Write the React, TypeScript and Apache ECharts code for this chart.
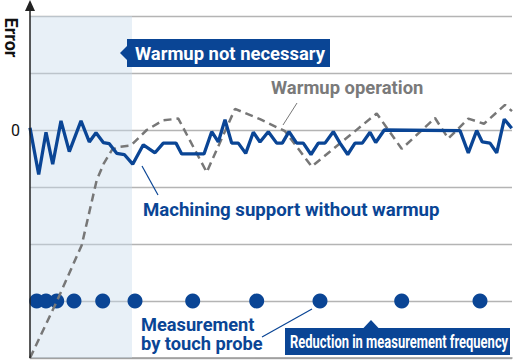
import React, { useEffect, useRef } from "react";
import * as echarts from "echarts";

// Time (arbitrary units along the x axis) and error values
const solidTime = [0, 8.7, 16, 22.7, 31, 39.3, 51, 59.3, 66, 73.3, 79.3, 86.7, 94.3, 102.7, 113.3, 125, 133.3, 146, 151.7, 174, 181.7, 188.3, 195, 201.7, 208.3, 215.7, 223.3, 230, 238.3, 246.7, 252.3, 259, 266.7, 273.3, 281, 288.3, 295, 303.3, 310, 317.7, 325, 332.3, 340, 345.7, 354.3, 430, 438.3, 446.7, 452.3, 460, 466.7, 474.3, 481.7];
const solidError = [0.04, -0.78, -0.04, -0.6, 0.16, -0.38, 0.16, -0.21, -0.05, -0.22, -0.24, -0.41, -0.43, -0.6, -0.26, -0.4, -0.23, -0.23, -0.42, -0.42, -0.03, -0.21, 0.18, -0.23, -0.23, -0.41, -0.04, -0.21, -0.03, -0.23, -0.23, -0.03, -0.23, -0.23, -0.43, -0.23, -0.23, -0.03, -0.23, -0.43, -0.23, -0.23, -0.04, -0.22, 0, -0.01, -0.4, -0.01, -0.21, -0.23, -0.4, 0.19, 0.03];

const dashedTime = [0, 26.7, 51.7, 66.7, 74, 82, 88, 101, 116.7, 133.3, 148.3, 176.7, 205, 230, 255, 281.7, 346.7, 371.7, 405, 418.3, 438.3, 454, 475, 482];
const dashedError = [-4, -3.01, -2.02, -0.88, -0.58, -0.35, -0.3, -0.27, 0, 0.17, 0.2, -0.74, 0.37, 0.19, -0.02, -0.64, 0.29, -0.33, 0.21, -0.15, 0.2, 0.11, 0.44, 0.33];

const probeTime = [6.7, 16, 26.7, 44, 72.7, 105, 162.7, 226.7, 290, 371.7, 450];
const probeLevel = -3;

const warmupZoneEnd = 102;
const yTicks = [-4, -3, -2, -1, 0, 1, 2];

const BLUE = "#0a4595";
const GRAY = "#777777";
const FONT = "Roboto, 'Liberation Sans', sans-serif";

export default function App() {
  const ref = useRef<HTMLDivElement>(null);
  useEffect(() => {
    if (!ref.current) return;
    const chart = echarts.init(ref.current, null, { renderer: "svg" });
    const solidData = solidTime.map((t, i) => [t, solidError[i]]);
    const dashedData = dashedTime.map((t, i) => [t, dashedError[i]]);
    const probeData = probeTime.map((t) => [t, probeLevel]);

    const txt = (
      text: string,
      x: number,
      y: number,
      fill: string,
      size: number,
      sx: number,
      extra: any = {}
    ) => ({
      type: "text",
      x,
      y,
      scaleX: sx,
      z: 100,
      style: {
        text,
        fill,
        fontFamily: FONT,
        fontWeight: "bold",
        fontSize: size,
        align: "left",
        verticalAlign: "middle",
      },
      ...extra,
    });

    chart.setOption({
      animation: false,
      grid: { left: 30, right: 3, top: 16, bottom: 3 },
      xAxis: {
        type: "value",
        min: 0,
        max: 482,
        axisLine: { show: true, onZero: false, lineStyle: { color: "#9a9a9a", width: 1.5 } },
        axisTick: { show: false },
        axisLabel: { show: false },
        splitLine: { show: false },
      },
      yAxis: {
        type: "value",
        min: yTicks[0],
        max: yTicks[yTicks.length - 1],
        interval: 1,
        axisLine: { show: false },
        axisTick: { show: false },
        axisLabel: {
          formatter: (v: number) => (v === 0 ? "0" : ""),
          color: "#111",
          fontSize: 16,
          margin: 10,
          fontFamily: FONT,
        },
        splitLine: { lineStyle: { color: "#b4b4b4", width: 1.3 } },
      },
      series: [
        {
          type: "scatter",
          data: probeData,
          symbolSize: 15,
          itemStyle: { color: BLUE, opacity: 1 },
          markArea: {
            silent: true,
            itemStyle: { color: "rgba(200,220,235,0.42)" },
            data: [[{ xAxis: 0 }, { xAxis: warmupZoneEnd }]],
          },
          z: 2,
        },
        {
          type: "line",
          data: dashedData,
          symbol: "none",
          lineStyle: { color: GRAY, width: 2.5, type: [8, 5] },
          z: 3,
        },
        {
          type: "line",
          data: solidData,
          symbol: "none",
          lineStyle: { color: BLUE, width: 3.3 },
          z: 4,
        },
      ],
      graphic: [
        { type: "line", z: 100, shape: { x1: 30, y1: 358, x2: 30, y2: 9 }, style: { stroke: "#222", lineWidth: 1.5 } },
        { type: "polygon", z: 100, shape: { points: [[25, 11], [30, 0], [35, 11]] }, style: { fill: "#222" } },
        {
          type: "text",
          x: 11.5,
          y: 37.5,
          rotation: -Math.PI / 2,
          z: 100,
          style: { text: "Error", fill: "#111", fontFamily: FONT, fontWeight: "bold", fontSize: 18, align: "center", verticalAlign: "middle" },
        },
        // Warmup not necessary box
        { type: "rect", z: 99, shape: { x: 127, y: 39, width: 203, height: 28 }, style: { fill: BLUE } },
        { type: "polygon", z: 99, shape: { points: [[127, 46], [120, 53], [127, 60]] }, style: { fill: BLUE } },
        txt("Warmup not necessary", 135, 53.5, "#fff", 19, 0.97),
        // Warmup operation
        txt("Warmup operation", 271, 88, "#7a7a7a", 19, 0.97),
        { type: "line", z: 100, shape: { x1: 297, y1: 103, x2: 283, y2: 125 }, style: { stroke: GRAY, lineWidth: 1 } },
        // Machining support
        txt("Machining support without warmup", 143, 209.5, BLUE, 19, 0.98),
        { type: "line", z: 100, shape: { x1: 142, y1: 166, x2: 158, y2: 195 }, style: { stroke: BLUE, lineWidth: 1.2 } },
        // Measurement by touch probe
        txt("Measurement", 141, 324.5, BLUE, 19, 0.96),
        txt("by touch probe", 141, 343.5, BLUE, 19, 0.96),
        { type: "line", z: 100, shape: { x1: 262, y1: 337, x2: 312, y2: 309 }, style: { stroke: BLUE, lineWidth: 1.2 } },
        // Reduction box
        { type: "rect", z: 99, shape: { x: 285, y: 328, width: 225, height: 27 }, style: { fill: BLUE } },
        { type: "polygon", z: 99, shape: { points: [[363, 328.5], [371, 320], [379, 328.5]] }, style: { fill: BLUE } },
        txt("Reduction in measurement frequency", 290, 342, "#fff", 18, 0.72),
      ],
    });
    return () => chart.dispose();
  }, []);
  return <div ref={ref} style={{ width: 515, height: 361, position: "absolute", left: 0, top: 0 }} />;
}
